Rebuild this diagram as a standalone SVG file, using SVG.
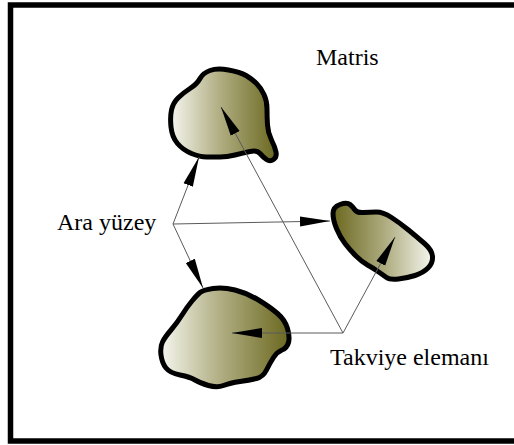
<svg xmlns="http://www.w3.org/2000/svg" width="514" height="445" viewBox="0 0 514 445">
  <style>
    .frame { fill: #ffffff; stroke: #000000; stroke-width: 5.5; }
    .blob { stroke: #000000; stroke-width: 5; stroke-linejoin: round; }
    .conn { fill: none; stroke: #5a5a5a; stroke-width: 1; marker-end: url(#head); }
    .label { font-family: "Liberation Serif", "Times New Roman", serif; font-size: 24px; fill: #000000; }
  </style>
  <defs>
    <linearGradient id="lightToDark" x1="0" y1="0" x2="1" y2="0">
      <stop offset="0" stop-color="#f6f6ef"/>
      <stop offset="0.45" stop-color="#b2b085"/>
      <stop offset="1" stop-color="#6b6820"/>
    </linearGradient>
    <linearGradient id="darkToLight" x1="0" y1="0" x2="1" y2="0">
      <stop offset="0" stop-color="#6b6820"/>
      <stop offset="0.55" stop-color="#b2b085"/>
      <stop offset="1" stop-color="#f6f6ef"/>
    </linearGradient>
    <marker id="head" markerUnits="userSpaceOnUse" markerWidth="32" markerHeight="12" viewBox="-30 -6 32 12" refX="0" refY="0" orient="auto">
      <path d="M0,0 L-30,-5 L-30,5 Z" fill="#000000"/>
    </marker>
  </defs>

  <!-- outer frame -->
  <rect class="frame" x="10.5" y="5" width="520" height="436"/>

  <!-- particles -->
  <g id="particle-top">
    <path class="blob" fill="url(#lightToDark)" d="M 200,78.5 Q 203,73 210,70.5 Q 217,68 228.5,70 Q 240,72 246,75.5 Q 252,79 256.5,83.5 Q 261,88 264,94.5 Q 267,101 267,109 Q 267,117 267.5,125 Q 268,133 271.5,140 Q 275,147 276,152 Q 277,157 273.5,159.5 Q 270,162 266.5,159.5 Q 263,157 260,153.5 Q 257,150 250,151.5 Q 243,153 235,155 Q 227,157 220,157 Q 213,157 206.5,157 Q 200,157 191.5,153.5 Q 183,150 177.5,143.5 Q 172,137 171,127 Q 170,117 171.5,110 Q 173,103 178,98 Q 183,93 190,88.5 Q 197,84 200,78.5 Z"/>
  </g>
  <g id="particle-right">
    <path class="blob" fill="url(#darkToLight)" d="M 333,213.5 Q 333,207 340,204.5 Q 347,202 350,204.5 Q 353,207 355,210 Q 357,213 363.5,212.5 Q 370,212 376.5,212 Q 383,212 391.5,217.5 Q 400,223 408.5,230 Q 417,237 424.5,243.5 Q 432,250 432.5,256.5 Q 433,263 428,268 Q 423,273 415,275.5 Q 407,278 398.5,279 Q 390,280 386.5,277.5 Q 383,275 378,271.5 Q 373,268 367.5,265 Q 362,262 356,256 Q 350,250 345,243.5 Q 340,237 336.5,228.5 Q 333,220 333,213.5 Z"/>
  </g>
  <g id="particle-bottom">
    <path class="blob" fill="url(#lightToDark)" d="M 200,292.5 Q 203,290 213,288.5 Q 223,287 235,290 Q 247,293 258.5,300 Q 270,307 277.5,313.5 Q 285,320 287.5,328.5 Q 290,337 288.5,342.5 Q 287,348 282,350 Q 277,352 273.5,357.5 Q 270,363 266.5,370 Q 263,377 256.5,378.5 Q 250,380 240,381.5 Q 230,383 223.5,385.5 Q 217,388 208.5,385.5 Q 200,383 195,380 Q 190,377 180,375 Q 170,373 166,368 Q 162,363 161,355 Q 160,347 162.5,342 Q 165,337 171,330 Q 177,323 182,315 Q 187,307 192,301 Q 197,295 200,292.5 Z"/>
  </g>

  <!-- leader lines -->
  <g id="connectors">
    <line class="conn" x1="173" y1="224" x2="199" y2="157"/>
    <line class="conn" x1="173" y1="224" x2="203" y2="288"/>
    <line class="conn" x1="173" y1="224" x2="330" y2="221"/>
    <line class="conn" x1="343" y1="333" x2="232" y2="333"/>
    <line class="conn" x1="343" y1="333" x2="395" y2="237"/>
    <line class="conn" x1="343" y1="333" x2="221" y2="107"/>
  </g>

  <!-- labels -->
  <g id="label-matris"><text class="label" x="316" y="65">Matris</text></g>
  <g id="label-ara-yuzey"><text class="label" x="57" y="230">Ara yüzey</text></g>
  <g id="label-takviye"><text class="label" x="330" y="365">Takviye elemanı</text></g>
</svg>
